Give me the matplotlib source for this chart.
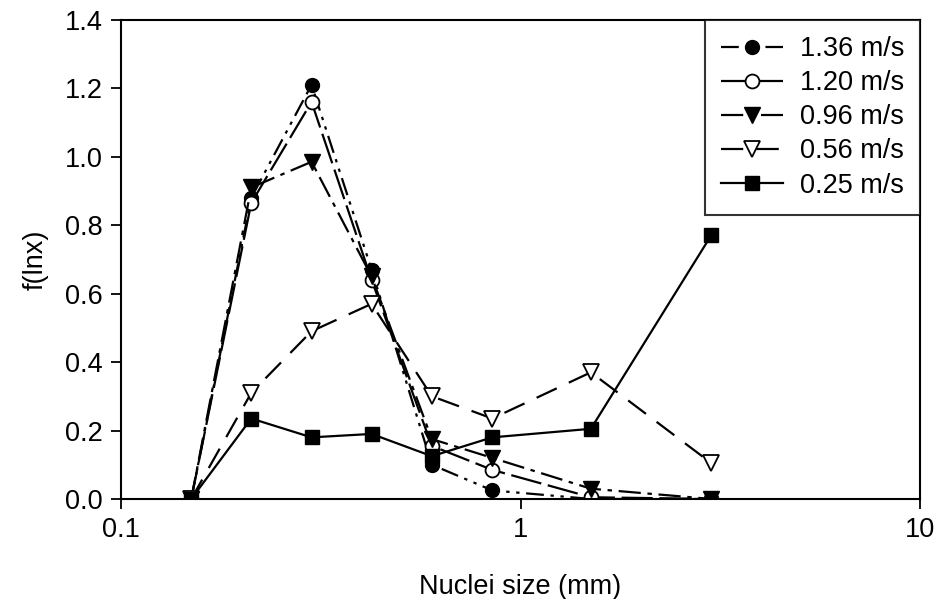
import matplotlib
matplotlib.use("Agg")
import matplotlib.pyplot as plt

plt.rcParams['font.family'] = ['Liberation Sans', 'DejaVu Sans']

# Tamaño de núcleo (mm)
tamano = [0.15, 0.212, 0.3, 0.424, 0.6, 0.85, 1.5, 3.0]

# f(lnx) para cada velocidad
v136 = [0.0, 0.88, 1.21, 0.67, 0.10, 0.025, 0.0, 0.0]
v120 = [0.0, 0.865, 1.16, 0.64, 0.155, 0.085, 0.005, 0.0]
v096 = [0.0, 0.91, 0.985, 0.65, 0.175, 0.12, 0.03, 0.0]
v056 = [0.0, 0.31, 0.49, 0.57, 0.30, 0.235, 0.37, 0.105]
v025 = [0.0, 0.235, 0.18, 0.19, 0.125, 0.18, 0.205, 0.77]

etiquetas = ['1.36 m/s', '1.20 m/s', '0.96 m/s', '0.56 m/s', '0.25 m/s']

fig = plt.figure(figsize=(9.37, 5.99), dpi=100)
ax = fig.add_axes([0.129, 0.167, 0.853, 0.800])

lw = 1.6
ax.plot(tamano, v136, color='black', lw=lw, linestyle=(0, (8, 3, 1.5, 3, 1.5, 3)),
        marker='o', ms=10, mfc='black', mec='black', label=etiquetas[0])
ax.plot(tamano, v120, color='black', lw=lw, linestyle=(0, (14, 3)),
        marker='o', ms=10, mfc='white', mec='black', mew=1.3, label=etiquetas[1])
ax.plot(tamano, v096, color='black', lw=lw, linestyle=(0, (10, 3, 2, 3)),
        marker='v', ms=11, mfc='black', mec='black', label=etiquetas[2])
ax.plot(tamano, v056, color='black', lw=lw, linestyle=(0, (10, 6)),
        marker='v', ms=11, mfc='white', mec='black', mew=1.3, label=etiquetas[3])
ax.plot(tamano, v025, color='black', lw=lw, linestyle='-',
        marker='s', ms=10, mfc='black', mec='black', label=etiquetas[4])

ax.set_xscale('log')
ax.set_xlim(0.1, 10)
ax.set_ylim(0, 1.4)
ax.set_xticks([0.1, 1, 10])
ax.set_xticklabels(['0.1', '1', '10'])
ax.minorticks_off()
ax.set_yticks([0, 0.2, 0.4, 0.6, 0.8, 1.0, 1.2, 1.4])
ax.set_yticklabels(['%.1f' % v for v in [0, 0.2, 0.4, 0.6, 0.8, 1.0, 1.2, 1.4]])
ax.tick_params(direction='out', length=7, width=1.3, labelsize=19.5, pad=6)
for s in ax.spines.values():
    s.set_linewidth(1.5)

ax.set_xlabel('Nuclei size (mm)', fontsize=19.5, labelpad=22)
ax.set_ylabel('f(lnx)', fontsize=19.5, labelpad=12)

leg = ax.legend(loc='upper right', fontsize=19.5, frameon=True, fancybox=False,
                edgecolor='black', borderaxespad=0, handlelength=2.3,
                labelspacing=0.3, borderpad=0.6, handletextpad=0.6)
leg.get_frame().set_linewidth(1.5)

fig.savefig('out.png', dpi=100, facecolor='white')
